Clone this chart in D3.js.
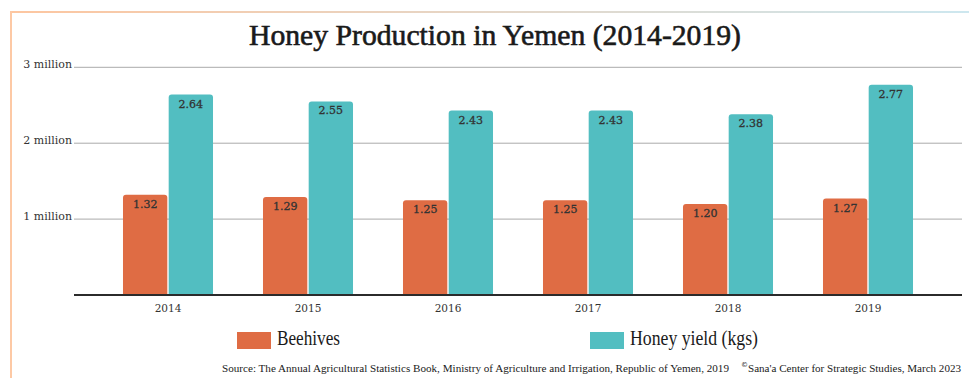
<!doctype html>
<html>
<head>
<meta charset="utf-8"/>
<title>Honey Production in Yemen (2014-2019)</title>
<script src="https://d3js.org/d3.v7.min.js"></script>
<style>
body { margin:0; background:#fff; }
</style>
</head>
<body>
<script>
// data (values in millions)
var years = ["2014", "2015", "2016", "2017", "2018", "2019"];
var beehives = [1.32, 1.29, 1.25, 1.25, 1.20, 1.27];
var honey = [2.64, 2.55, 2.43, 2.43, 2.38, 2.77];
var seriesNames = ["Beehives", "Honey yield (kgs)"];
var seriesColors = ["#df6c44", "#52bec1"];
var yTicks = [1, 2, 3];
var yTickLabels = ["1 million", "2 million", "3 million"];

var W = 969, H = 378;
var svg = d3.select("body").append("svg").attr("width", W).attr("height", H);

// frame: gradient top rule + left rule
var grad = svg.append("defs").append("linearGradient").attr("id", "topg");
grad.append("stop").attr("offset", "0%").attr("stop-color", "#fdc6a0");
grad.append("stop").attr("offset", "100%").attr("stop-color", "#cde7ef");
svg.append("rect").attr("x", 10).attr("y", 11).attr("width", W - 10).attr("height", 2).attr("fill", "url(#topg)");
svg.append("rect").attr("x", 10).attr("y", 11).attr("width", 2).attr("height", H - 11).attr("fill", "#fdc9a5");

// title
svg.append("text")
  .attr("x", 495).attr("y", 45)
  .attr("text-anchor", "middle")
  .attr("font-family", "Liberation Serif")
  .attr("font-size", 29)
  .attr("fill", "#1a1a1a")
  .attr("stroke", "#1a1a1a").attr("stroke-width", 0.6)
  .attr("textLength", 492).attr("lengthAdjust", "spacingAndGlyphs")
  .text("Honey Production in Yemen (2014-2019)");

var x0 = d3.scaleBand().domain(years).range([98, 938]).paddingInner(0.357).paddingOuter(0.1785);
var x1 = d3.scaleBand().domain(seriesNames).range([0, x0.bandwidth()]).paddingInner(0.03);
var y = d3.scaleLinear().domain([0, 3]).range([295, 67.3]);

// gridlines
svg.selectAll(".grid").data(yTicks).enter().append("line")
  .attr("x1", 74).attr("x2", 962)
  .attr("y1", function(d){ return y(d); }).attr("y2", function(d){ return y(d); })
  .attr("stroke", "#aaaaaa").attr("stroke-width", 1);

svg.selectAll(".ytl").data(yTicks).enter().append("text")
  .attr("x", 72).attr("y", function(d){ return y(d) + 1; })
  .attr("text-anchor", "end")
  .attr("font-family", "DejaVu Serif")
  .attr("font-size", 11)
  .attr("fill", "#333")
  .text(function(d, i){ return yTickLabels[i]; });

// bars
function topRounded(x, yTop, w, yBase, r) {
  return "M" + x + "," + yBase +
    "V" + (yTop + r) +
    "Q" + x + "," + yTop + " " + (x + r) + "," + yTop +
    "H" + (x + w - r) +
    "Q" + (x + w) + "," + yTop + " " + (x + w) + "," + (yTop + r) +
    "V" + yBase + "Z";
}

var rows = years.map(function(yr, i){
  return { year: yr, vals: [beehives[i], honey[i]] };
});

var g = svg.selectAll(".grp").data(rows).enter().append("g")
  .attr("transform", function(d){ return "translate(" + x0(d.year) + ",0)"; });

g.selectAll("path").data(function(d){ return d.vals.map(function(v, k){ return { k: k, v: v }; }); })
  .enter().append("path")
  .attr("d", function(d){ return topRounded(x1(seriesNames[d.k]), y(d.v), x1.bandwidth(), y(0), 3); })
  .attr("fill", function(d){ return seriesColors[d.k]; });

g.selectAll("text").data(function(d){ return d.vals.map(function(v, k){ return { k: k, v: v }; }); })
  .enter().append("text")
  .attr("x", function(d){ return x1(seriesNames[d.k]) + x1.bandwidth() / 2; })
  .attr("y", function(d){ return y(d.v) + 13; })
  .attr("text-anchor", "middle")
  .attr("font-family", "DejaVu Serif")
  .attr("font-size", 11)
  .attr("fill", "#333")
  .attr("stroke", "#333").attr("stroke-width", 0.3)
  .text(function(d){ return d.v.toFixed(2); });

// baseline
svg.append("line").attr("x1", 74).attr("x2", 962).attr("y1", y(0)).attr("y2", y(0))
  .attr("stroke", "#2b2b2b").attr("stroke-width", 2);

// year labels
svg.selectAll(".xl").data(years).enter().append("text")
  .attr("x", function(d){ return x0(d) + x0.bandwidth() / 2; })
  .attr("y", 312)
  .attr("text-anchor", "middle")
  .attr("font-family", "DejaVu Serif")
  .attr("font-size", 10.5)
  .attr("fill", "#333")
  .text(function(d){ return d; });

// legend
var legX = [237, 590];
var legLen = [63, 128];
var leg = svg.selectAll(".leg").data(seriesNames).enter().append("g")
  .attr("transform", function(d, i){ return "translate(" + legX[i] + ",332)"; });
leg.append("rect").attr("width", 34).attr("height", 17)
  .attr("fill", function(d, i){ return seriesColors[i]; });
leg.append("text").attr("x", 40).attr("y", 13)
  .attr("font-family", "Liberation Serif")
  .attr("font-size", 20)
  .attr("fill", "#1a1a1a")
  .attr("textLength", function(d, i){ return legLen[i]; }).attr("lengthAdjust", "spacingAndGlyphs")
  .text(function(d){ return d; });

// source
svg.append("text").attr("x", 222).attr("y", 372)
  .attr("font-family", "Liberation Serif").attr("font-size", 10.5).attr("fill", "#1a1a1a")
  .attr("textLength", 507).attr("lengthAdjust", "spacingAndGlyphs")
  .text("Source: The Annual Agricultural Statistics Book, Ministry of Agriculture and Irrigation, Republic of Yemen, 2019");
svg.append("text").attr("x", 741).attr("y", 367)
  .attr("font-family", "DejaVu Sans").attr("font-size", 7).attr("fill", "#1a1a1a")
  .text("©");
svg.append("text").attr("x", 748).attr("y", 372)
  .attr("font-family", "Liberation Serif").attr("font-size", 10.5).attr("fill", "#1a1a1a")
  .attr("textLength", 213).attr("lengthAdjust", "spacingAndGlyphs")
  .text("Sana'a Center for Strategic Studies, March 2023");
</script>
</body>
</html>
